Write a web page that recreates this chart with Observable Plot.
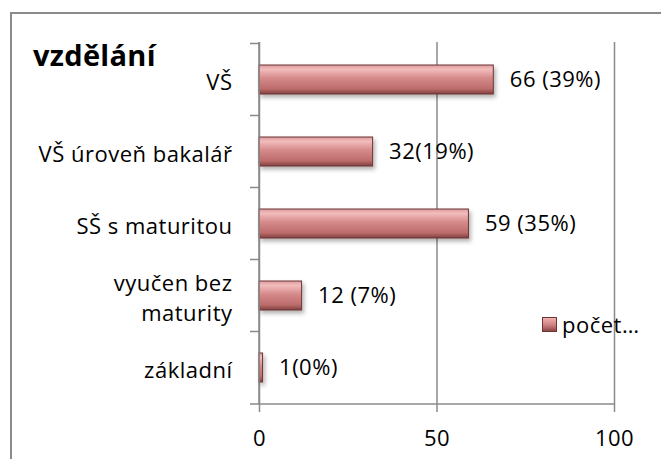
<!DOCTYPE html>
<html>
<head>
<meta charset="utf-8">
<script src="https://cdn.jsdelivr.net/npm/d3@7"></script>
<script src="https://cdn.jsdelivr.net/npm/@observablehq/plot@0.6"></script>
<style>
  html, body { margin: 0; padding: 0; background: #fff; }
  body { width: 661px; height: 459px; overflow: hidden; position: relative; font-family: "Open Sans", sans-serif; }
  #frame { position: absolute; left: 10px; top: 12px; width: 700px; height: 500px; border: 2px solid #8a8a8a; box-sizing: border-box; }
  #chart { position: absolute; left: 0; top: 0; }
  #title { position: absolute; left: 33px; top: 35px; font-size: 29px; font-weight: bold; color: #000; font-family: "Open Sans", sans-serif; letter-spacing: 0.3px; }
  #legend { position: absolute; left: 542px; top: 309px; font-size: 22px; display: flex; align-items: center; gap: 5px; color: #000; letter-spacing: 0.5px; }
  #legend .sw { width: 13px; height: 13px; border: 1px solid #6e3535; background: linear-gradient(#eeb0b0, #cf8080 55%, #8e4848); }
</style>
</head>
<body>
<div id="frame"></div>
<div id="chart"></div>
<div id="title">vzdělání</div>
<div id="legend"><div class="sw"></div><span>počet…</span></div>
<script>
const categories = ["VŠ", "VŠ úroveň bakalář", "SŠ s maturitou", "vyučen bez maturity", "základní"];
const tickLabels = ["VŠ", "VŠ úroveň bakalář", "SŠ s maturitou", "vyučen bez\nmaturity", "základní"];
const values = [66, 32, 59, 12, 1];
const valueLabels = ["66 (39%)", "32(19%)", "59 (35%)", "12 (7%)", "1(0%)"];
const xTicks = [0, 50, 100];

const data = categories.map((c, i) => ({category: c, value: values[i], label: valueLabels[i]}));

const plot = Plot.plot({
  width: 661,
  height: 459,
  marginLeft: 259,
  marginRight: 47,
  marginTop: 42,
  marginBottom: 55,
  style: {fontFamily: "'Open Sans', sans-serif", color: "#000", background: "transparent", overflow: "visible", letterSpacing: "0.5px"},
  x: {domain: [0, 100], ticks: xTicks},
  y: {domain: categories, paddingInner: 0.6, paddingOuter: 0.3},
  marks: [
    Plot.gridX(xTicks, {stroke: "#8a8a8a", strokeOpacity: 1, strokeWidth: 1.5}),
    Plot.barX(data, {x: "value", y: "category", fill: "url(#barGrad)", stroke: "#6e3535", strokeWidth: 1}),
    Plot.text(data, {x: "value", y: "category", text: "label", textAnchor: "start", dx: 16, fontSize: 22, fill: "#000"}),
    Plot.axisX(xTicks, {tickSize: 8, tickPadding: 18, fontSize: 22, stroke: "#8a8a8a", strokeWidth: 1.5, label: null}),
    Plot.axisY({tickSize: 0, tickPadding: 27, fontSize: 22, lineHeight: 1.36, label: null,
      tickFormat: d => tickLabels[categories.indexOf(d)]})
  ]
});

document.getElementById("chart").appendChild(plot);

// gradient for bevelled bars
const svg = d3.select(plot);
const defs = svg.insert("defs", ":first-child");
const g = defs.append("linearGradient").attr("id", "barGrad").attr("x1", 0).attr("y1", 0).attr("x2", 0).attr("y2", 1);
[[0, "#dc9a9a"], [0.15, "#f3bcbc"], [0.45, "#d58a8a"], [0.82, "#bd6c6c"], [1, "#7e3e3e"]]
  .forEach(([o, c]) => g.append("stop").attr("offset", o).attr("stop-color", c));
const f = defs.append("filter").attr("id", "shadow").attr("x", "-10%").attr("y", "-30%").attr("width", "130%").attr("height", "180%");
f.append("feDropShadow").attr("dx", 2).attr("dy", 3).attr("stdDeviation", 2).attr("flood-color", "#000").attr("flood-opacity", 0.3);
svg.selectAll("g[fill='url(#barGrad)']").attr("filter", "url(#shadow)");

// axis lines and category boundary ticks from the plot's scales
const xs = plot.scale("x"), ys = plot.scale("y");
const [x0, x1] = xs.range;
const [yTop, yBot] = [42, 459 - 55];
const ax = svg.append("g").attr("stroke", "#8a8a8a").attr("stroke-width", 1.5);
ax.append("line").attr("x1", xs.apply(0)).attr("x2", xs.apply(0)).attr("y1", yTop).attr("y2", yBot);
ax.append("line").attr("x1", x0 - 9).attr("x2", x1).attr("y1", yBot).attr("y2", yBot);
const step = ys.step;
categories.forEach(c => {
  const yb = ys.apply(c) - (step - ys.bandwidth) / 2;
  ax.append("line").attr("x1", xs.apply(0) - 9).attr("x2", xs.apply(0)).attr("y1", yb).attr("y2", yb);
});
</script>
</body>
</html>
